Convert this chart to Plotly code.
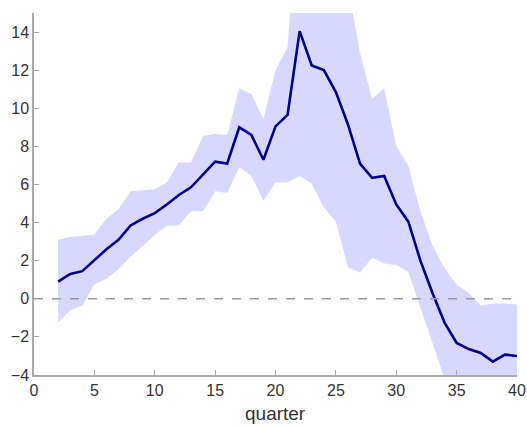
import plotly.graph_objects as go

quarters = list(range(2, 41))
median = [0.9, 1.3, 1.45, 2.05, 2.6, 3.1, 3.85, 4.2, 4.5, 4.95, 5.45, 5.85, 6.55, 7.2, 7.1,
          9.0, 8.6, 7.3, 9.05, 9.65, 14.05, 12.25, 12.0, 10.85, 9.15, 7.1, 6.35, 6.45, 4.95,
          4.05, 2.0, 0.3, -1.25, -2.32, -2.64, -2.84, -3.3, -2.93, -3.0]
upper = [3.1, 3.25, 3.3, 3.38, 4.2, 4.7, 5.65, 5.7, 5.75, 6.1, 7.15, 7.15, 8.55, 8.65, 8.6,
         11.05, 10.75, 9.45, 12.0, 13.2, 22.0, 21.0, 20.0, 18.0, 16.4, 12.9, 10.5, 11.05, 8.0,
         7.0, 4.6, 2.8, 1.6, 0.75, 0.3, -0.35, -0.25, -0.25, -0.3]
lower = [-1.25, -0.6, -0.37, 0.75, 1.05, 1.55, 2.2, 2.8, 3.35, 3.85, 3.85, 4.6, 4.6, 5.65, 5.55,
         6.9, 6.45, 5.15, 6.1, 6.1, 6.45, 6.05, 4.8, 4.05, 1.64, 1.38, 2.16, 1.85, 1.78,
         1.41, -0.5, -2.3, -4.2, -5.5, -6.0, -6.5, -6.5, -6.5, -6.5]

x_ticks = [0, 5, 10, 15, 20, 25, 30, 35, 40]
y_ticks = [-4, -2, 0, 2, 4, 6, 8, 10, 12, 14]

band_color = "rgb(216,216,255)"
line_color = "rgb(0,0,140)"
axis_color = "#aaaaaa"
font_family = "Liberation Sans, Arial, sans-serif"

fig = go.Figure()
fig.add_trace(go.Scatter(x=quarters, y=lower, mode="lines", line=dict(width=0, color=band_color),
                         showlegend=False, hoverinfo="skip"))
fig.add_trace(go.Scatter(x=quarters, y=upper, mode="lines", line=dict(width=0, color=band_color),
                         fill="tonexty", fillcolor=band_color, showlegend=False, hoverinfo="skip"))
fig.add_shape(type="line", xref="x", yref="y", x0=0, x1=40, y0=0, y1=0,
              line=dict(color="#999999", width=1.5, dash="dash"), layer="above")
fig.add_trace(go.Scatter(x=quarters, y=median, mode="lines", line=dict(width=2.6, color=line_color),
                         showlegend=False))

fig.add_annotation(text="quarter", xref="paper", yref="paper", x=0.5, y=-0.105,
                   xanchor="center", yanchor="middle", showarrow=False,
                   font=dict(size=19, color="#333333", family=font_family))

fig.update_layout(
    width=527, height=427,
    margin=dict(l=34, r=10, t=13, b=52),
    plot_bgcolor="white", paper_bgcolor="white",
    font=dict(family=font_family, size=16, color="#333333"),
    xaxis=dict(range=[0, 40], tickvals=x_ticks, ticks="inside", ticklen=5, tickcolor=axis_color,
               showline=True, linecolor=axis_color, linewidth=1.5, showgrid=False, zeroline=False,
               automargin=False, tickfont=dict(size=16)),
    yaxis=dict(range=[-4, 15], tickvals=y_ticks, ticks="inside", ticklen=5, tickcolor=axis_color,
               showline=True, linecolor=axis_color, linewidth=1.5, showgrid=False, zeroline=False,
               automargin=False, tickfont=dict(size=16)),
)

fig.write_html(
    "out.html",
    config={"displayModeBar": False},
    post_script="document.body.style.margin='0';document.body.style.overflow='hidden';",
)
